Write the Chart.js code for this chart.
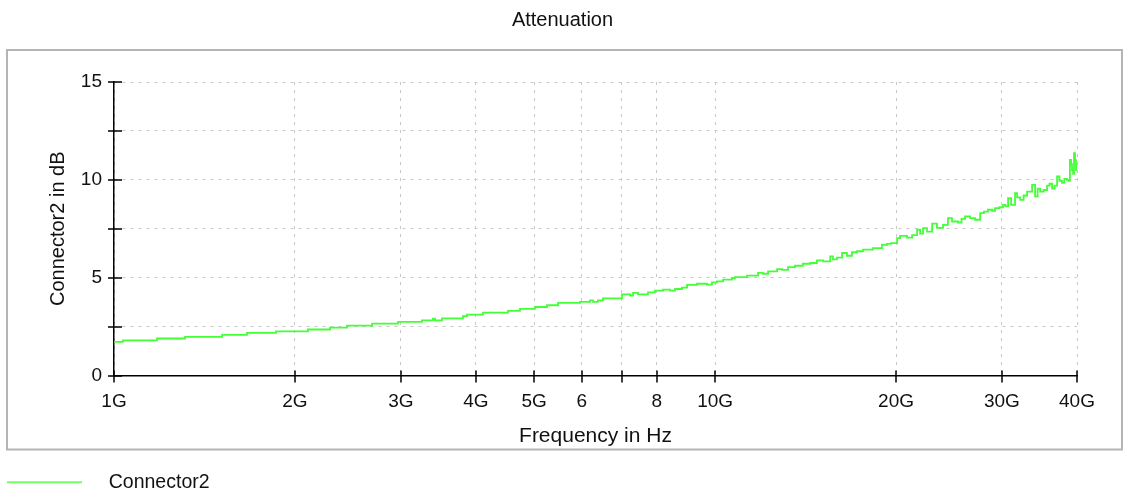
<!DOCTYPE html>
<html>
<head>
<meta charset="utf-8">
<title>Attenuation</title>
<script src="https://cdn.jsdelivr.net/npm/chart.js@4.4.1/dist/chart.umd.min.js"></script>
<style>
  html, body { margin: 0; padding: 0; background: #fff; }
  #chart { display: block; }
</style>
</head>
<body>
<canvas id="chart" width="1125" height="496"></canvas>
<script>
// values (frequency in GHz, attenuation in dB)
const freqGHz = [
    1.000, 1.035, 1.179, 1.313, 1.513, 1.664, 1.860, 2.102, 2.288, 2.442,
    2.688, 2.969, 3.253, 3.394, 3.420, 3.513, 3.807, 3.866, 4.111, 4.524,
    4.736, 5.016, 5.253, 5.479, 5.959, 6.193, 6.264, 6.385, 6.509, 7.000,
    7.220, 7.303, 7.444, 7.734, 7.943, 8.190, 8.414, 8.577, 8.811, 8.982,
    9.331, 9.694, 9.881, 10.07, 10.31, 10.67, 10.79, 11.30, 11.79, 12.02,
    12.25, 12.68, 12.92, 13.22, 13.58, 14.00, 14.39, 14.77, 15.12, 15.54,
    15.71, 15.95, 16.26, 16.57, 16.89, 17.22, 17.62, 18.31, 18.95, 19.32,
    19.62, 20.08, 20.31, 20.86, 21.27, 21.68, 21.93, 22.18, 22.52, 22.96,
    23.39, 23.94, 24.40, 24.78, 25.36, 25.70, 26.05, 26.56, 27.07, 27.60,
    28.00, 28.44, 28.90, 29.22, 29.70, 30.13, 30.40, 30.72, 31.08, 31.55,
    31.80, 32.17, 32.60, 33.04, 33.68, 34.07, 34.40, 34.73, 35.20, 35.67,
    36.00, 36.36, 36.70, 37.06, 37.40, 37.77, 38.10, 38.49, 38.70, 38.93,
    39.10, 39.24, 39.40, 39.54, 39.70, 39.85, 40.00
];
const connector2Db = [
    1.72, 1.80, 1.89, 1.97, 2.08, 2.18, 2.26, 2.35, 2.45, 2.55,
    2.65, 2.74, 2.82, 2.90, 2.82, 2.92, 3.03, 3.11, 3.21, 3.30,
    3.40, 3.50, 3.59, 3.71, 3.76, 3.84, 3.76, 3.84, 3.94, 4.15,
    4.08, 4.22, 4.15, 4.25, 4.34, 4.39, 4.34, 4.42, 4.49, 4.63,
    4.69, 4.64, 4.76, 4.81, 4.90, 4.97, 5.03, 5.10, 5.24, 5.20,
    5.32, 5.44, 5.40, 5.54, 5.61, 5.71, 5.75, 5.88, 5.83, 6.09,
    5.93, 6.02, 6.26, 6.12, 6.30, 6.35, 6.43, 6.51, 6.68, 6.73,
    6.77, 7.02, 7.14, 7.05, 7.17, 7.45, 7.25, 7.53, 7.35, 7.76,
    7.54, 7.70, 8.04, 7.87, 7.82, 8.00, 8.13, 8.04, 7.96, 8.30,
    8.38, 8.47, 8.42, 8.55, 8.60, 8.72, 8.66, 9.06, 8.72, 9.32,
    9.10, 8.98, 9.20, 9.40, 9.74, 9.15, 9.55, 9.40, 9.48, 9.70,
    9.80, 9.55, 9.70, 10.17, 9.95, 9.84, 10.05, 10.00, 9.95, 11.02,
    10.80, 10.50, 10.30, 11.36, 11.00, 10.50, 10.60
];

const xTickValues = [1, 2, 3, 4, 5, 6, 7, 8, 10, 20, 30, 40];
const xTickLabels = ['1G', '2G', '3G', '4G', '5G', '6', '', '8', '10G', '20G', '30G', '40G'];
const yTickValues = [0, 2.5, 5, 7.5, 10, 12.5, 15];
const yTickLabels = ['0', '', '5', '', '10', '', '15'];

const lineColor = '#44ff38';
const textColor = '#111';
const fontFamily = "'Liberation Sans', Arial, Helvetica, sans-serif";

// legend mark: a short line with some blank space after it
const legendMark = document.createElement('canvas');
legendMark.width = 92;
legendMark.height = 4;
let lctx = legendMark.getContext('2d');
lctx.strokeStyle = lineColor;
lctx.lineWidth = 1.5;
lctx.beginPath();
lctx.moveTo(0, 2);
lctx.lineTo(75, 2);
lctx.stroke();

// grey frame around the plot and the crossing tick marks
const framePlugin = {
    id: 'frame',
    beforeDraw(chart) {
        let a = chart.chartArea;
        let ctx = chart.ctx;
        ctx.save();
        ctx.strokeStyle = '#b4b4b4';
        ctx.lineWidth = 2;
        ctx.strokeRect(a.left - 107, a.top - 32, (a.right + 45) - (a.left - 107), (a.bottom + 74) - (a.top - 32));
        ctx.restore();
    },
    afterDraw(chart) {
        let a = chart.chartArea;
        let ctx = chart.ctx;
        let xs = chart.scales.x;
        let ys = chart.scales.y;
        ctx.save();
        ctx.strokeStyle = '#000';
        ctx.lineWidth = 1.5;
        ctx.beginPath();
        xs.ticks.forEach((t) => {
            let px = Math.round(xs.getPixelForValue(t.value));
            ctx.moveTo(px, a.bottom - 5);
            ctx.lineTo(px, a.bottom + 7);
        });
        ys.ticks.forEach((t) => {
            let py = Math.round(ys.getPixelForValue(t.value));
            ctx.moveTo(a.left - 6, py);
            ctx.lineTo(a.left + 8, py);
        });
        ctx.stroke();
        ctx.restore();
    }
};

const points = freqGHz.map((f, i) => ({x: f, y: connector2Db[i]}));

new Chart(document.getElementById('chart'), {
    type: 'line',
    data: {
        datasets: [{
            label: 'Connector2',
            data: points,
            borderColor: lineColor,
            backgroundColor: lineColor,
            borderWidth: 1.8,
            pointRadius: 0,
            stepped: true,
            fill: false
        }]
    },
    options: {
        responsive: false,
        animation: false,
        devicePixelRatio: 1,
        layout: {
            padding: {left: 3, right: 3, top: 0, bottom: -6}
        },
        plugins: {
            title: {
                display: true,
                text: 'Attenuation',
                color: textColor,
                font: {family: fontFamily, size: 20, weight: 'normal'},
                padding: {top: 8, bottom: 50}
            },
            legend: {
                display: true,
                position: 'bottom',
                align: 'start',
                labels: {
                    usePointStyle: true,
                    pointStyle: legendMark,
                    pointStyleWidth: 92,
                    padding: 4,
                    color: textColor,
                    font: {family: fontFamily, size: 19.5}
                }
            },
            tooltip: {enabled: false}
        },
        scales: {
            x: {
                type: 'logarithmic',
                min: 1,
                max: 40,
                afterBuildTicks(scale) {
                    scale.ticks = xTickValues.map((v) => ({value: v}));
                },
                afterFit(scale) {
                    scale.height = 93;
                },
                ticks: {
                    autoSkip: false,
                    maxRotation: 0,
                    padding: 15,
                    color: textColor,
                    font: {family: fontFamily, size: 19},
                    callback: (value, index) => xTickLabels[index]
                },
                grid: {
                    color: '#c8c8c8',
                    lineWidth: 1,
                    drawTicks: false,
                    tickLength: 0
                },
                border: {display: true, color: '#000', width: 1.5, dash: [3, 5]},
                title: {
                    display: true,
                    text: 'Frequency in Hz',
                    color: textColor,
                    font: {family: fontFamily, size: 21},
                    padding: {top: 0, bottom: 20}
                }
            },
            y: {
                min: 0,
                max: 15,
                afterBuildTicks(scale) {
                    scale.ticks = yTickValues.map((v) => ({value: v}));
                },
                afterFit(scale) {
                    scale.width = 111;
                },
                ticks: {
                    autoSkip: false,
                    padding: 12,
                    color: textColor,
                    font: {family: fontFamily, size: 19},
                    callback: (value, index) => yTickLabels[index]
                },
                grid: {
                    color: '#c8c8c8',
                    lineWidth: 1,
                    drawTicks: false,
                    tickLength: 0
                },
                border: {display: true, color: '#000', width: 1.5, dash: [3, 5]},
                title: {
                    display: true,
                    text: 'Connector2 in dB',
                    color: textColor,
                    font: {family: fontFamily, size: 20},
                    padding: {top: 43, bottom: 0}
                }
            },
            // empty right-hand box so the plot ends where the reference does
            // while the title stays centred on the page
            spacer: {
                type: 'linear',
                position: 'right',
                display: true,
                afterFit(scale) {
                    scale.width = 45;
                },
                ticks: {display: false},
                grid: {display: false},
                border: {display: false}
            }
        }
    },
    plugins: [framePlugin]
});
</script>
</body>
</html>
